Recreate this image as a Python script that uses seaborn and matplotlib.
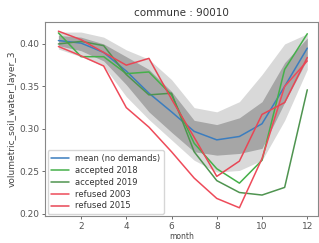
import numpy as np
import pandas as pd
import matplotlib
matplotlib.use('Agg')
import matplotlib.pyplot as plt
import seaborn as sns

sns.set_style("white")
plt.rcParams['font.family'] = ['DejaVu Sans']

# Data
months = [1, 2, 3, 4, 5, 6, 7, 8, 9, 10, 11, 12]
mean_no_demands = [0.404, 0.401, 0.390, 0.368, 0.342, 0.320, 0.297, 0.287, 0.291, 0.306, 0.350, 0.395]
outer_top = [0.414, 0.414, 0.408, 0.393, 0.382, 0.358, 0.325, 0.320, 0.332, 0.364, 0.400, 0.412]
outer_bottom = [0.394, 0.385, 0.374, 0.338, 0.311, 0.287, 0.263, 0.249, 0.251, 0.263, 0.310, 0.370]
inner_top = [0.410, 0.408, 0.400, 0.385, 0.370, 0.344, 0.310, 0.305, 0.313, 0.332, 0.378, 0.407]
inner_bottom = [0.398, 0.392, 0.380, 0.352, 0.320, 0.296, 0.273, 0.269, 0.271, 0.277, 0.331, 0.382]
accepted_2018 = [0.413, 0.385, 0.385, 0.365, 0.367, 0.340, 0.283, 0.253, 0.236, 0.263, 0.370, 0.412]
accepted_2019 = [0.400, 0.403, 0.398, 0.364, 0.340, 0.342, 0.273, 0.239, 0.225, 0.222, 0.231, 0.346]
refused_2003 = [0.397, 0.386, 0.374, 0.325, 0.302, 0.273, 0.242, 0.218, 0.207, 0.265, 0.350, 0.380]
refused_2015 = [0.415, 0.405, 0.390, 0.375, 0.383, 0.335, 0.290, 0.244, 0.262, 0.317, 0.331, 0.384]

series = {
    'mean (no demands)': (mean_no_demands, '#3b7dbf'),
    'accepted 2018': (accepted_2018, '#45b04a'),
    'accepted 2019': (accepted_2019, '#4f9450'),
    'refused 2003': (refused_2003, '#ee4b5a'),
    'refused 2015': (refused_2015, '#e84655'),
}

fig, ax = plt.subplots(figsize=(3.19, 2.43), dpi=100)
fig.subplots_adjust(left=0.142, right=0.998, top=0.91, bottom=0.11)

ax.fill_between(months, outer_bottom, outer_top, color='#d9d9d9', linewidth=0)
ax.fill_between(months, inner_bottom, inner_top, color='#a6a6a6', linewidth=0)

for name, (vals, col) in series.items():
    df = pd.DataFrame({'month': months, 'value': vals})
    sns.lineplot(data=df, x='month', y='value', color=col, linewidth=1.1,
                 label=name, ax=ax)

ax.set_xlim(0.42, 12.49)
ax.set_ylim(0.197, 0.426)
ax.set_xticks([2, 4, 6, 8, 10, 12])
ax.set_yticks([0.20, 0.25, 0.30, 0.35, 0.40])
ax.set_yticklabels(['0.20', '0.25', '0.30', '0.35', '0.40'])
ax.tick_params(axis='both', labelsize=6.5, length=2.5, width=0.6,
               colors='#555555', direction='out', bottom=True, left=True, pad=1.5)
for sp in ax.spines.values():
    sp.set_color('#888888')
    sp.set_linewidth(0.8)

ax.set_title('commune : 90010', fontsize=7.5, color='#333333', pad=4)
ax.set_xlabel('month', fontsize=5.5, color='#444444', labelpad=1)
ax.set_ylabel('volumetric_soil_water_layer_3', fontsize=6.5, color='#444444', labelpad=2)

leg = ax.legend(loc='lower left', fontsize=6, frameon=True, handlelength=2.2,
                borderpad=0.4, labelspacing=0.35, handletextpad=0.7,
                borderaxespad=0.3)
leg.get_frame().set_edgecolor('#cccccc')
for t in leg.get_texts():
    t.set_color('#333333')

plt.savefig('out.png', dpi=100)
plt.close()
